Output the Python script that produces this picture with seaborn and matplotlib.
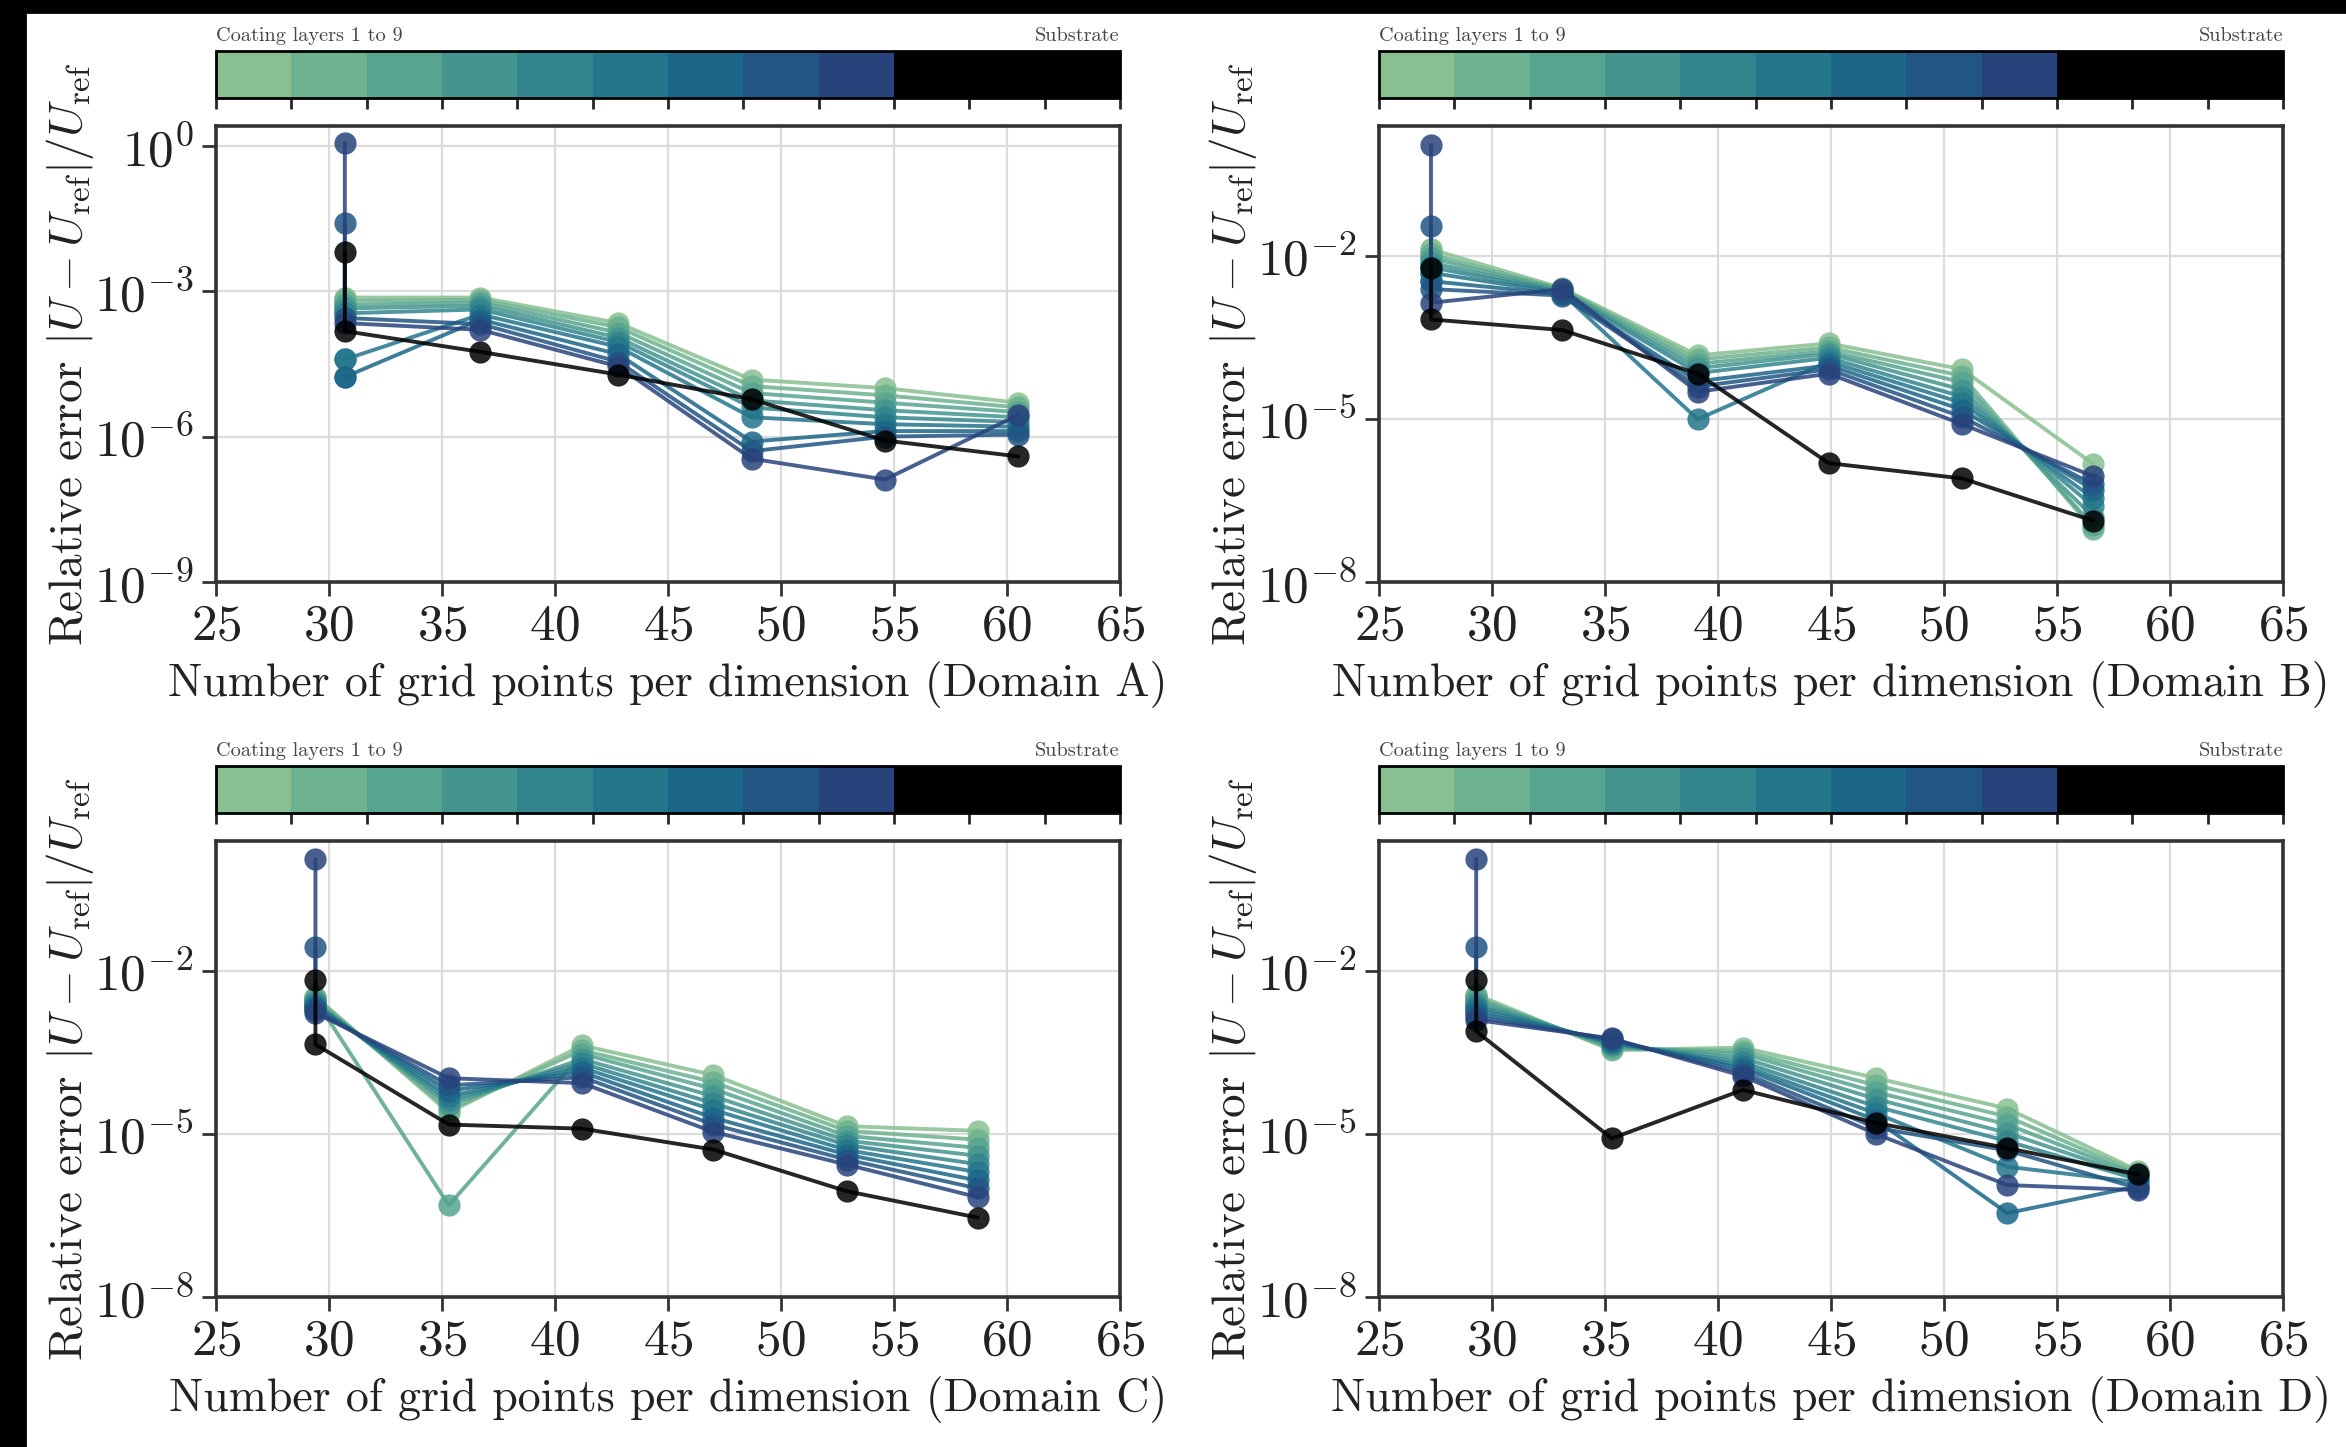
import matplotlib
matplotlib.use("Agg")
import matplotlib.pyplot as plt
import matplotlib.ticker as mticker
from matplotlib.colors import ListedColormap, BoundaryNorm
from matplotlib.colorbar import ColorbarBase
from matplotlib.patches import Rectangle
import pandas as pd
import seaborn as sns

# ---------------------------------------------------------------------------
# Convergence data: relative error per coating layer (1-9) and substrate.
# The first grid size is listed twice (two runs at the coarsest grid).
# ---------------------------------------------------------------------------
series_names = [f"Layer {i}" for i in range(1, 10)] + ["Substrate"]

grid_A = [30.7, 30.7, 36.7, 42.8, 48.7, 54.6, 60.5]
err_A = [
    [7.4e-4, 7.4e-4, 7.4e-4, 2.2e-4, 1.5e-5, 1.0e-5, 5.0e-6],
    [6.3e-4, 6.3e-4, 6.6e-4, 1.8e-4, 1.1e-5, 7.1e-6, 4.0e-6],
    [5.2e-4, 5.2e-4, 5.8e-4, 1.4e-4, 7.9e-6, 5.0e-6, 3.2e-6],
    [4.4e-4, 4.4e-4, 5.0e-4, 1.1e-4, 5.6e-6, 3.5e-6, 2.5e-6],
    [3.5e-4, 3.5e-4, 4.2e-4, 8.9e-5, 4.0e-6, 2.5e-6, 2.0e-6],
    [3.9e-5, 3.9e-5, 3.3e-4, 7.1e-5, 2.5e-6, 1.8e-6, 1.6e-6],
    [1.7e-5, 1.7e-5, 2.6e-4, 5.0e-5, 7.9e-7, 1.3e-6, 1.3e-6],
    [2.5e-2, 2.8e-4, 2.1e-4, 3.5e-5, 5.0e-7, 1.0e-6, 1.1e-6],
    [1.15, 2.2e-4, 1.6e-4, 2.8e-5, 3.5e-7, 1.3e-7, 2.8e-6],
    [6.3e-3, 1.5e-4, 5.6e-5, 1.9e-5, 5.9e-6, 8.3e-7, 3.9e-7],
]

grid_B = [27.3, 27.3, 33.1, 39.1, 44.9, 50.8, 56.6]
err_B = [
    [1.35e-2, 1.35e-2, 2.6e-3, 1.5e-4, 2.5e-4, 8.3e-5, 1.5e-6],
    [1.1e-2, 1.1e-2, 2.5e-3, 1.26e-4, 2.1e-4, 6.3e-5, 9.3e-8],
    [9.3e-3, 9.3e-3, 2.4e-3, 1.05e-4, 1.8e-4, 4.8e-5, 1.1e-7],
    [7.6e-3, 7.6e-3, 2.3e-3, 8.7e-5, 1.6e-4, 3.5e-5, 1.6e-7],
    [6.3e-3, 6.3e-3, 2.2e-3, 7.1e-5, 1.35e-4, 2.6e-5, 2.5e-7],
    [5.0e-3, 5.0e-3, 2.1e-3, 1.0e-5, 1.15e-4, 2.0e-5, 3.5e-7],
    [3.5e-3, 3.5e-3, 2.0e-3, 5.0e-5, 9.8e-5, 1.5e-5, 5.0e-7],
    [3.7e-2, 2.5e-3, 1.9e-3, 4.0e-5, 8.3e-5, 1.1e-5, 6.3e-7],
    [1.12, 1.4e-3, 2.5e-3, 3.2e-5, 6.9e-5, 8.1e-6, 8.9e-7],
    [6.2e-3, 6.9e-4, 4.4e-4, 6.9e-5, 1.55e-6, 8.1e-7, 1.35e-7],
]

grid_C = [29.4, 29.4, 35.3, 41.2, 47.0, 52.9, 58.7]
err_C = [
    [3.4e-3, 3.4e-3, 2.5e-5, 4.3e-4, 1.23e-4, 1.4e-5, 1.15e-5],
    [3.2e-3, 3.2e-3, 2.8e-5, 3.5e-4, 9.1e-5, 1.15e-5, 7.9e-6],
    [3.0e-3, 3.0e-3, 4.9e-7, 3.0e-4, 6.8e-5, 9.3e-6, 5.6e-6],
    [2.7e-3, 2.7e-3, 3.5e-5, 2.4e-4, 5.0e-5, 7.6e-6, 4.0e-6],
    [2.5e-3, 2.5e-3, 4.2e-5, 2.0e-4, 3.7e-5, 6.3e-6, 2.8e-6],
    [2.3e-3, 2.3e-3, 5.0e-5, 1.66e-4, 2.8e-5, 5.1e-6, 2.0e-6],
    [2.1e-3, 2.1e-3, 6.3e-5, 1.38e-4, 2.0e-5, 4.2e-6, 1.4e-6],
    [2.8e-2, 1.9e-3, 7.9e-5, 1.12e-4, 1.5e-5, 3.4e-6, 1.0e-6],
    [1.17, 1.7e-3, 1.07e-4, 8.7e-5, 1.1e-5, 2.75e-6, 6.9e-7],
    [6.8e-3, 4.5e-4, 1.5e-5, 1.26e-5, 5.2e-6, 8.9e-7, 2.9e-7],
]

grid_D = [29.3, 29.3, 35.3, 41.1, 47.0, 52.8, 58.6]
err_D = [
    [3.7e-3, 3.7e-3, 3.5e-4, 3.9e-4, 1.07e-4, 2.95e-5, 2.1e-6],
    [3.3e-3, 3.3e-3, 3.7e-4, 3.4e-4, 7.9e-5, 2.1e-5, 1.9e-6],
    [3.0e-3, 3.0e-3, 4.0e-4, 3.0e-4, 5.9e-5, 1.5e-5, 1.74e-6],
    [2.6e-3, 2.6e-3, 4.3e-4, 2.5e-4, 4.4e-5, 1.05e-5, 1.6e-6],
    [2.3e-3, 2.3e-3, 4.6e-4, 2.1e-4, 3.2e-5, 7.4e-6, 1.45e-6],
    [2.0e-3, 2.0e-3, 4.9e-4, 1.8e-4, 2.4e-5, 2.5e-6, 1.3e-6],
    [1.7e-3, 1.7e-3, 5.2e-4, 1.6e-4, 1.8e-5, 3.5e-7, 1.1e-6],
    [2.8e-2, 1.45e-3, 5.5e-4, 1.35e-4, 1.3e-5, 5.0e-6, 1.0e-6],
    [1.17, 1.26e-3, 5.75e-4, 1.17e-4, 1.0e-5, 1.15e-6, 9.3e-7],
    [6.8e-3, 7.8e-4, 8.3e-6, 6.5e-5, 1.6e-5, 5.5e-6, 1.8e-6],
]

domains = ["A", "B", "C", "D"]
grids = [grid_A, grid_B, grid_C, grid_D]
errors = [err_A, err_B, err_C, err_D]
y_bottoms = [1e-9, 1e-8, 1e-8, 1e-8]
y_ticks = [
    [1e-9, 1e-6, 1e-3, 1e0],
    [1e-8, 1e-5, 1e-2],
    [1e-8, 1e-5, 1e-2],
    [1e-8, 1e-5, 1e-2],
]
x_ticks = [25, 30, 35, 40, 45, 50, 55, 60, 65]

# ---------------------------------------------------------------------------
# Style
# ---------------------------------------------------------------------------
sns.set_theme(style="whitegrid")
plt.rcParams.update({
    "font.family": ["cmr10", "DejaVu Serif"],
    "mathtext.fontset": "cm",
    "axes.formatter.use_mathtext": True,
    "grid.color": "#dcdcdc",
    "grid.linewidth": 0.8,
})

layer_colors = sns.color_palette("crest", 9)
palette = dict(zip(series_names, list(layer_colors) + ["black"]))
bar_cmap = ListedColormap(list(layer_colors) + ["black"] * 3)

W, H = 2346, 1447
fig = plt.figure(figsize=(W / 200, H / 200), dpi=200)
fig.patch.set_facecolor("white")

# panel placement in pixels: (left, top) of the axes box
ax_w, ax_h = 904, 456
origins = [(216, 126), (1379, 126), (216, 841), (1379, 841)]
cbar_gap, cbar_h = 28, 47


def fx(px):
    return px / W


def fy(py):
    return 1 - py / H


for (left, top), letter, grid, errs, ybot, yt in zip(
        origins, domains, grids, errors, y_bottoms, y_ticks):
    ax = fig.add_axes([fx(left), fy(top + ax_h), ax_w / W, ax_h / H])

    rows = []
    for name, vals in zip(series_names, errs):
        for n, e in zip(grid, vals):
            rows.append((name, n, e))
    df = pd.DataFrame(rows, columns=["series", "n", "err"])

    ax.set_yscale("log")
    sns.lineplot(
        data=df, x="n", y="err", hue="series", hue_order=series_names,
        palette=palette, estimator=None, sort=False, marker="o",
        markersize=8, markeredgewidth=0, linewidth=1.4, alpha=0.85,
        legend=False, ax=ax,
    )
    ax.set_xlim(25, 65)
    ax.set_ylim(bottom=ybot)
    ax.set_xticks(x_ticks)
    ax.yaxis.set_major_locator(mticker.FixedLocator(yt))
    ax.yaxis.set_major_formatter(mticker.LogFormatterSciNotation())
    ax.yaxis.set_minor_locator(mticker.NullLocator())
    ax.tick_params(axis="both", which="major", labelsize=18.5, length=5,
                   width=1.0, color="#333333", bottom=True, left=True,
                   pad=3, labelcolor="#222222")
    for sp in ax.spines.values():
        sp.set_color("#333333")
        sp.set_linewidth(1.3)
    ax.set_xlabel(f"Number of grid points per dimension (Domain {letter})",
                  fontsize=16.5, color="#222222", labelpad=4)
    ax.set_ylabel(r"Relative error $|U - U_{\mathrm{ref}}|/U_{\mathrm{ref}}$",
                  fontsize=17, color="#222222", labelpad=-1)

    # layer colour key above each panel
    cax = fig.add_axes([fx(left), fy(top - cbar_gap), ax_w / W, cbar_h / H])
    cb = ColorbarBase(cax, cmap=bar_cmap, norm=BoundaryNorm(range(13), 12),
                      orientation="horizontal", ticks=[])
    cb.outline.set_edgecolor("black")
    cb.outline.set_linewidth(1.0)
    cax.text(0, 1.12, "Coating layers 1 to 9", transform=cax.transAxes,
             ha="left", va="bottom", fontsize=7.3, color="#444444")
    cax.text(1, 1.12, "Substrate", transform=cax.transAxes,
             ha="right", va="bottom", fontsize=7.3, color="#444444")

# dark frame along the top and left edges
fig.add_artist(Rectangle((0, 1 - 12 / H), 1, 12 / H, transform=fig.transFigure,
                         color="black", zorder=10))
fig.add_artist(Rectangle((0, 0), 25 / W, 1, transform=fig.transFigure,
                         color="black", zorder=10))

fig.savefig("out.png", dpi=200, facecolor="white")
